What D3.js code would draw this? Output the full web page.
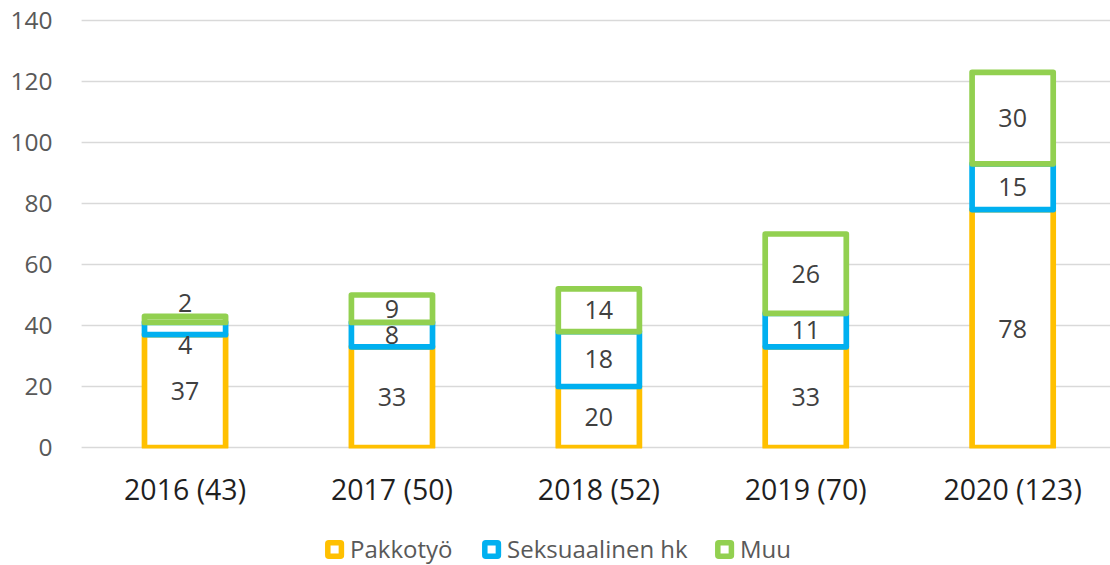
<!DOCTYPE html>
<html>
<head>
<meta charset="utf-8">
<script src="https://cdn.jsdelivr.net/npm/d3@7"></script>
<style>
  body { margin: 0; background: #fff; }
  text { font-family: "Open Sans", "Noto Sans", sans-serif; }
</style>
</head>
<body>
<div class="chart"></div>
<script>
// data
var categories = ["2016 (43)", "2017 (50)", "2018 (52)", "2019 (70)", "2020 (123)"];
var seriesNames = ["Pakkotyö", "Seksuaalinen hk", "Muu"];
var pakkotyo = [37, 33, 20, 33, 78];
var seksuaalinen = [4, 8, 18, 11, 15];
var muu = [2, 9, 14, 26, 30];
var yTicks = [0, 20, 40, 60, 80, 100, 120, 140];
var colors = ["#FFC000", "#00B0F0", "#92D050"];

var svgWidth = 1110;
var svgHeight = 565;
var margin = { top: 20.5, left: 81.6 };
var width = 1034.5;          // plot runs a little past the right edge, as in the original
var height = 427;

var svg = d3.select(".chart")
  .append("svg")
  .attr("width", svgWidth)
  .attr("height", svgHeight);

var chartGroup = svg.append("g")
  .attr("transform", `translate(${margin.left},${margin.top})`);

var rows = categories.map(function(c, i) {
  return { cat: c, "Pakkotyö": pakkotyo[i], "Seksuaalinen hk": seksuaalinen[i], "Muu": muu[i] };
});
var stacked = d3.stack().keys(seriesNames)(rows);

var x = d3.scaleBand().domain(categories).range([0, width]).paddingInner(0.608).paddingOuter(0.304);
var y = d3.scaleLinear().domain([0, 140]).range([height, 0]);

// gridlines
chartGroup.append("g")
  .selectAll("line")
  .data(yTicks)
  .enter()
  .append("line")
  .attr("x1", 0)
  .attr("x2", width)
  .attr("y1", d => y(d))
  .attr("y2", d => y(d))
  .attr("stroke", "#d9d9d9")
  .attr("stroke-width", 1.3);

// y axis labels
var leftAxis = d3.axisLeft(y).tickValues(yTicks).tickSize(0).tickPadding(29);
var yAxisG = chartGroup.append("g").call(leftAxis);
yAxisG.select(".domain").remove();
yAxisG.selectAll("text")
  .attr("fill", "#595959")
  .style("font-size", "24.5px")
  .style("font-family", "'Open Sans', sans-serif");

// x axis labels
var bottomAxis = d3.axisBottom(x).tickSize(0).tickPadding(32);
var xAxisG = chartGroup.append("g")
  .attr("transform", `translate(0, ${height})`)
  .call(bottomAxis);
xAxisG.select(".domain").remove();
xAxisG.selectAll("text")
  .attr("fill", "#1f1f1f")
  .style("font-size", "28.5px")
  .style("font-family", "'Open Sans', sans-serif");

// clip bars at the baseline so the bottom border stays thin
svg.append("defs").append("clipPath")
  .attr("id", "plotClip")
  .append("rect")
  .attr("x", -10)
  .attr("y", -10)
  .attr("width", width + 20)
  .attr("height", height + 11);

// bars: white fill, coloured border centred on segment edges
var sw = 5.7;
var layers = chartGroup.append("g")
  .attr("clip-path", "url(#plotClip)")
  .selectAll(".layer")
  .data(stacked)
  .enter()
  .append("g")
  .attr("class", "layer")
  .attr("stroke", (d, i) => colors[i]);

layers.selectAll("rect")
  .data(d => d)
  .enter()
  .append("rect")
  .attr("x", d => x(d.data.cat))
  .attr("width", x.bandwidth())
  .attr("y", d => y(d[1]))
  .attr("height", d => y(d[0]) - y(d[1]))
  .attr("fill", "#fff")
  .attr("stroke-width", sw)
  .attr("stroke-linejoin", "round");

// data labels, spread apart where segments are too thin for them
var overlapGap = 24;
var spreadGap = 42;
categories.forEach(function(c, i) {
  var labs = stacked.map(function(s) {
    return { val: s[i][1] - s[i][0], cy: y((s[i][0] + s[i][1]) / 2) };
  });
  for (var iter = 0; iter < 5; iter++) {
    for (var k = 0; k < labs.length - 1; k++) {
      var a = labs[k], b = labs[k + 1];
      var gap = a.cy - b.cy;
      if (gap < overlapGap) {
        var push = (spreadGap - gap) / 2;
        a.cy += push;
        b.cy -= push;
      }
    }
  }
  chartGroup.append("g")
    .selectAll("text")
    .data(labs)
    .enter()
    .append("text")
    .attr("x", x(c) + x.bandwidth() / 2)
    .attr("y", d => d.cy)
    .attr("dy", "0.36em")
    .attr("text-anchor", "middle")
    .attr("fill", "#404040")
    .style("font-size", "25px")
    .text(d => d.val);
});

// legend
var legend = svg.append("g").attr("transform", "translate(0, 549.5)");
var legendX = [325, 482, 715];
seriesNames.forEach(function(name, i) {
  var g = legend.append("g").attr("transform", `translate(${legendX[i]}, 0)`);
  g.append("rect")
    .attr("x", 2.8)
    .attr("y", -6.8)
    .attr("width", 13.6)
    .attr("height", 13.6)
    .attr("fill", "#fff")
    .attr("stroke", colors[i])
    .attr("stroke-width", 5.5)
    .attr("rx", 1);
  g.append("text")
    .attr("x", 25)
    .attr("y", 0)
    .attr("dy", "0.36em")
    .attr("fill", "#595959")
    .style("font-size", "24px")
    .text(name);
});
</script>
</body>
</html>
